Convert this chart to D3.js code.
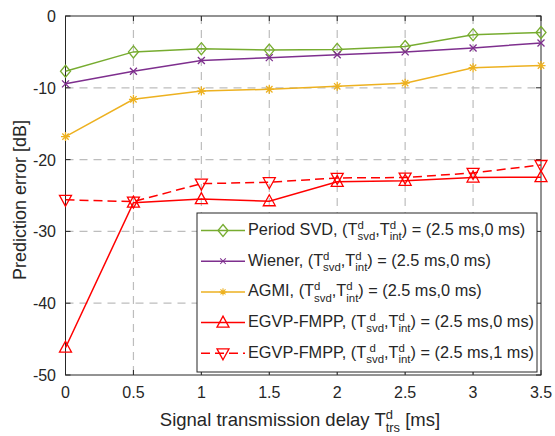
<!DOCTYPE html>
<html>
<head>
<meta charset="utf-8">
<script src="https://cdn.jsdelivr.net/npm/d3@7/dist/d3.min.js"></script>
<style>
  body { margin: 0; background: #fff; }
  svg text { font-family: "Liberation Sans", Arial, Helvetica, sans-serif; fill: #262626; }
</style>
</head>
<body>
<svg id="chart" width="555" height="436"></svg>
<script>
// data
const delays = [0, 0.5, 1, 1.5, 2, 2.5, 3, 3.5]
const periodSvd = [-7.7, -5.0, -4.55, -4.75, -4.65, -4.25, -2.6, -2.3]
const wiener = [-9.45, -7.7, -6.2, -5.8, -5.4, -5.0, -4.45, -3.75]
const agmi = [-16.8, -11.6, -10.45, -10.2, -9.8, -9.35, -7.2, -6.9]
const egvp0 = [-46.2, -26.0, -25.5, -25.8, -23.1, -22.95, -22.5, -22.45]
const egvp1 = [-25.6, -25.85, -23.35, -23.15, -22.55, -22.5, -21.85, -20.75]
const xTicks = [0, 0.5, 1, 1.5, 2, 2.5, 3, 3.5]
const yTicks = [0, -10, -20, -30, -40, -50]

const series = [
  { name: 'Period SVD, (T', data: periodSvd, color: '#77AC30', marker: 'diamond', dash: null, gap: '' },
  { name: 'Wiener, (T', data: wiener, color: '#7E2F8E', marker: 'cross', dash: null, gap: '' },
  { name: 'AGMI, (T', data: agmi, color: '#EDB120', marker: 'star', dash: null, gap: '' },
  { name: 'EGVP-FMPP, (T', data: egvp0, color: '#FF0000', marker: 'up', dash: null, gap: ' ' },
  { name: 'EGVP-FMPP, (T', data: egvp1, color: '#FF0000', marker: 'down', dash: '9,5', gap: ' ' },
]
const legendTails = [') = (2.5 ms,0 ms)', ') = (2.5 ms,0 ms)', ') = (2.5 ms,0 ms)', ') = (2.5 ms,0 ms)', ') = (2.5 ms,1 ms)']

const svg = d3.select('#chart')
const gridLeft = 65.5, gridRight = 541, gridTop = 16, gridBottom = 375

const x = d3.scaleLinear().domain([0, 3.5]).range([gridLeft, gridRight])
const y = d3.scaleLinear().domain([-50, 0]).range([gridBottom, gridTop])

// grid
const grid = svg.append('g')
grid.selectAll('line.gx').data(xTicks.slice(1, -1)).join('line')
  .attr('x1', d => x(d)).attr('x2', d => x(d)).attr('y1', gridTop).attr('y2', gridBottom)
grid.selectAll('line.gy').data(yTicks.slice(1, -1)).join('line')
  .attr('x1', gridLeft).attr('x2', gridRight).attr('y1', d => y(d)).attr('y2', d => y(d))
grid.selectAll('line').attr('stroke', '#bdbdbd').attr('stroke-width', 1.2).attr('stroke-dasharray', '8,6')

// axes box with inward ticks
const axes = svg.append('g')
const tickLen = 5
axes.append('rect').attr('x', gridLeft).attr('y', gridTop).attr('width', gridRight - gridLeft).attr('height', gridBottom - gridTop)
  .attr('fill', 'none').attr('stroke', '#262626').attr('stroke-width', 1)
xTicks.forEach(t => {
  axes.append('line').attr('x1', x(t)).attr('x2', x(t)).attr('y1', gridBottom).attr('y2', gridBottom - tickLen)
  axes.append('line').attr('x1', x(t)).attr('x2', x(t)).attr('y1', gridTop).attr('y2', gridTop + tickLen)
})
yTicks.forEach(t => {
  axes.append('line').attr('x1', gridLeft).attr('x2', gridLeft + tickLen).attr('y1', y(t)).attr('y2', y(t))
  axes.append('line').attr('x1', gridRight).attr('x2', gridRight - tickLen).attr('y1', y(t)).attr('y2', y(t))
})
axes.selectAll('line').attr('stroke', '#262626').attr('stroke-width', 1)

axes.selectAll('text.xt').data(xTicks).join('text')
  .attr('x', d => x(d)).attr('y', 398).attr('text-anchor', 'middle')
  .style('font-size', '16px').text(d => d)
axes.selectAll('text.yt').data(yTicks).join('text')
  .attr('x', 56).attr('y', d => y(d) + 6).attr('text-anchor', 'end')
  .style('font-size', '16px').text(d => d)

// markers
function markerPath(type) {
  switch (type) {
    case 'diamond': return 'M0,-6L5,0L0,6L-5,0Z'
    case 'cross': return 'M-3.5,-3.5L3.5,3.5M-3.5,3.5L3.5,-3.5'
    case 'star': return 'M-4.5,0L4.5,0M0,-4.5L0,4.5M-3.2,-3.2L3.2,3.2M-3.2,3.2L3.2,-3.2'
    case 'up': return 'M0,-6.5L6,4.5L-6,4.5Z'
    case 'down': return 'M0,6.5L6,-4.5L-6,-4.5Z'
  }
}

const line = d3.line().x((d, i) => x(delays[i])).y(d => y(d))
const plot = svg.append('g')
series.forEach(s => {
  plot.append('path').attr('d', line(s.data))
    .attr('fill', 'none').attr('stroke', s.color).attr('stroke-width', 1.5)
    .attr('stroke-dasharray', s.dash)
  plot.append('g').selectAll('path').data(s.data).join('path')
    .attr('transform', (d, i) => `translate(${x(delays[i])},${y(d)})`)
    .attr('d', markerPath(s.marker))
    .attr('fill', 'none').attr('stroke', s.color).attr('stroke-width', 1.3)
})

// rich text in one <text>: segments are strings or [sup, sub] pairs stacked
function rich(g, x0, y0, segs, fs, anchor) {
  const sf = fs * 0.7
  const t = g.append('text').attr('x', x0).attr('y', y0)
    .attr('text-anchor', anchor || 'start')
    .style('font-size', fs + 'px').style('white-space', 'pre')
  let off = 0, pad = 0
  segs.forEach(seg => {
    if (typeof seg === 'string') {
      t.append('tspan').attr('dy', -off).attr('dx', pad).text(seg)
      off = 0; pad = 0
    } else {
      const up = -fs * 0.38, dn = fs * 0.33
      const a = t.append('tspan').attr('dy', up - off).attr('dx', pad).style('font-size', sf + 'px').text(seg[0])
      const wa = a.node().getComputedTextLength()
      const b = t.append('tspan').attr('dy', dn - up).attr('dx', -wa).style('font-size', sf + 'px').text(seg[1])
      const wb = b.node().getComputedTextLength()
      off = dn
      pad = Math.max(0, wa - wb)
    }
  })
  return t
}

// legend
const lg = svg.append('g')
lg.append('rect').attr('x', 197).attr('y', 213).attr('width', 340).attr('height', 159)
  .attr('fill', '#fff').attr('stroke', '#262626').attr('stroke-width', 1)
series.forEach((s, i) => {
  const ly = 230.5 + i * 30.7
  lg.append('line').attr('x1', 201).attr('x2', 245).attr('y1', ly).attr('y2', ly)
    .attr('stroke', s.color).attr('stroke-width', 1.5).attr('stroke-dasharray', s.dash)
  const sc = (s.marker === 'cross' || s.marker === 'star') ? 0.8 : 1
  lg.append('path').attr('d', markerPath(s.marker))
    .attr('transform', `translate(223,${ly}) scale(${sc})`)
    .attr('fill', 'none').attr('stroke', s.color).attr('stroke-width', 1.3)
  rich(lg, 248, ly + 4.5, [s.name, [s.gap + 'd', 'svd'], ',T', ['d', 'int'], legendTails[i]], 16.3)
})

// axis labels
rich(svg, 300, 426, ['Signal transmission delay T', ['d', 'trs'], ' [ms]'], 18.5, 'middle')

svg.append('text').attr('transform', 'translate(26,200) rotate(-90)')
  .attr('text-anchor', 'middle').style('font-size', '18px').text('Prediction error [dB]')
</script>
</body>
</html>
